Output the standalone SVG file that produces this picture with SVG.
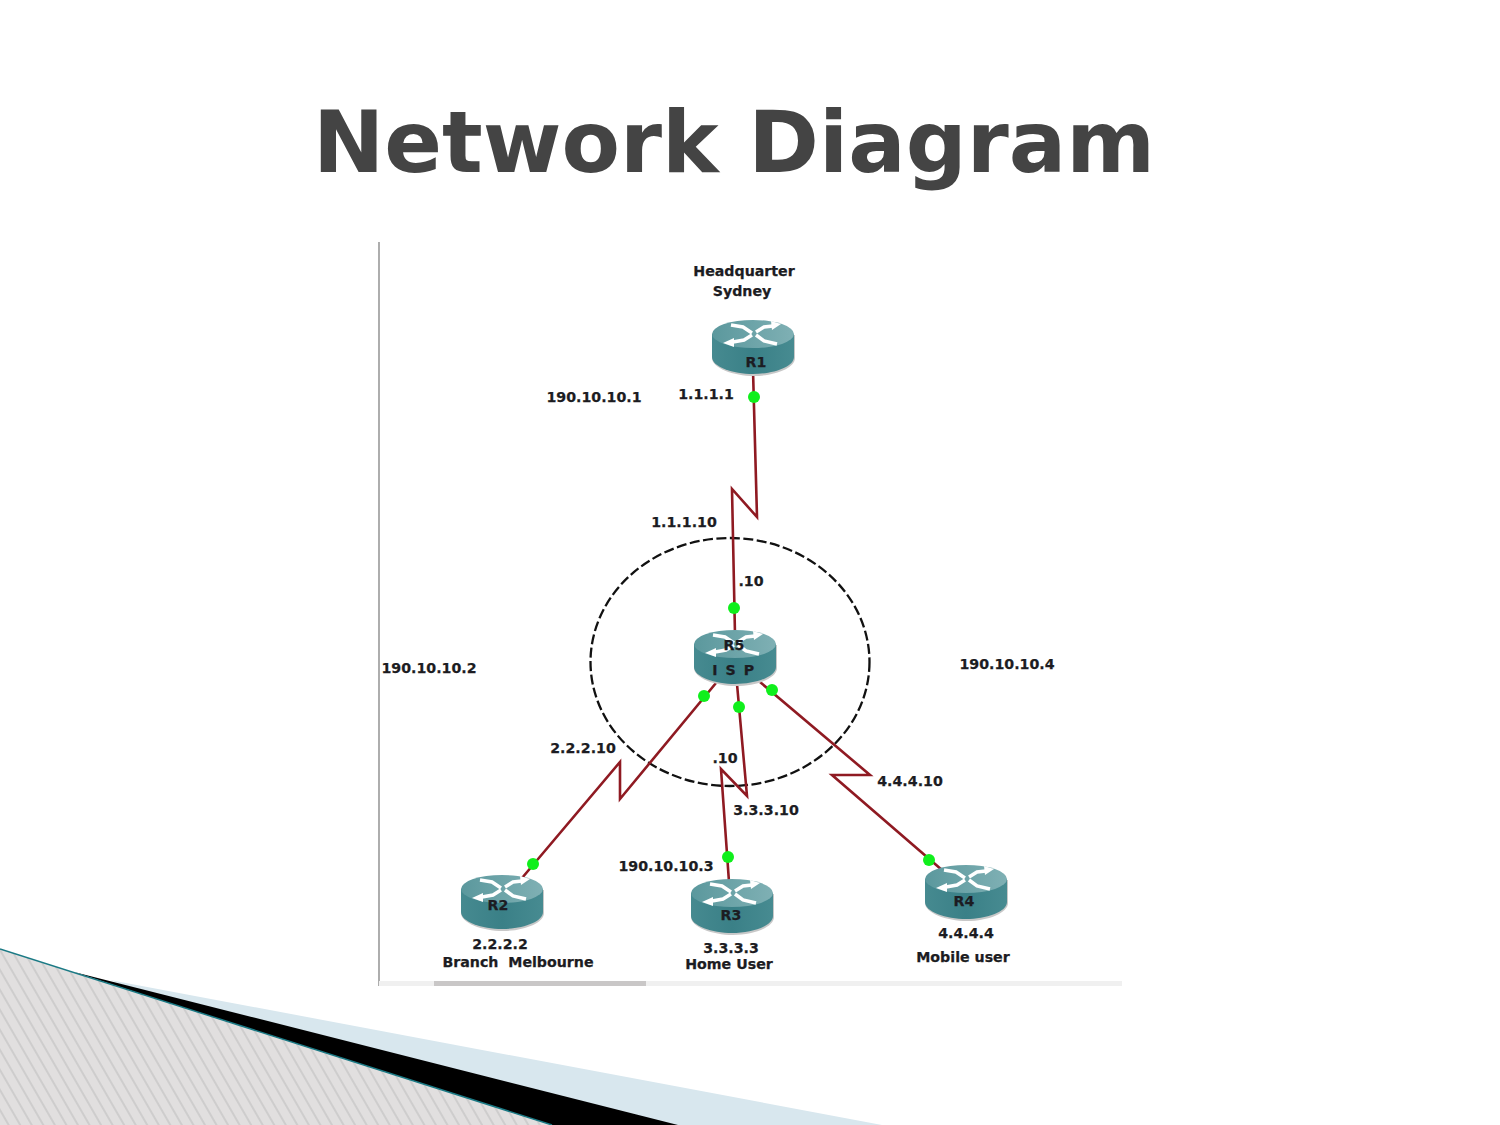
<svg xmlns="http://www.w3.org/2000/svg" width="1500" height="1125" viewBox="0 0 1500 1125">
<style>
.t{font-family:"DejaVu Sans",sans-serif;font-weight:bold;font-size:14.2px;fill:#1c1c22;stroke:#1c1c22;stroke-width:.25;text-anchor:middle;white-space:pre}
.link{fill:none;stroke:#8f1a22;stroke-width:2.6;stroke-linejoin:miter}
.dot{fill:#10ef1c}
</style>
<defs>
<pattern id="hatch" patternUnits="userSpaceOnUse" width="10" height="10" patternTransform="rotate(-30)">
<rect width="10" height="10" fill="#e1dfdf"/>
<line x1="5" y1="0" x2="5" y2="10" stroke="#bcbcbc" stroke-width="1"/>
</pattern>
<linearGradient id="side" x1="0" x2="1" y1="0" y2="0">
<stop offset="0" stop-color="#468a90"/><stop offset="0.5" stop-color="#3a8087"/><stop offset="1" stop-color="#478b91"/>
</linearGradient>
<linearGradient id="top" x1="0" x2="1" y1="0" y2="0">
<stop offset="0" stop-color="#5b989d"/><stop offset="1" stop-color="#7fb0b4"/>
</linearGradient>
<g id="router">
<path d="M-41 15 V38 C-41 48 -20 56 1 56 C22 56 42 48 42 38 V15 Z" fill="#c8c8c8"/>
<path d="M-41 14 V37 C-41 47 -20 54 0 54 C20 54 41 47 41 37 V14 Z" fill="url(#side)"/>
<ellipse cx="0" cy="14" rx="41" ry="14" fill="url(#top)"/>
<g fill="none" stroke="#fff" stroke-width="3.500">
<path d="M-22 5 L-10 7 L-1 13"/>
<path d="M-20 22 L-9 20 L-1 15"/>
<path d="M3 12 L11 7 L20 6"/>
<path d="M3 15 L11 21 L24 24"/>
</g>
<g fill="#fff">
<path d="M-30 23 L-19 18 L-19 27 Z"/>
<path d="M28 4 L18 1 L19 10 Z"/>
</g>
</g>
</defs>
<rect width="1500" height="1125" fill="#fff"/>
<path d="M110 980 L882 1125 H500 Z" fill="#d8e7ee"/>
<path d="M74 972 L678 1125 H540 Z" fill="#000"/>
<path d="M0 949 L552 1125 H0 Z" fill="url(#hatch)"/>
<path d="M0 949 L552 1125" fill="none" stroke="#1b7a85" stroke-width="1.5"/>
<text x="734" y="172" font-family="'DejaVu Sans',sans-serif" font-weight="bold" font-size="85.2" fill="#444" text-anchor="middle">Network Diagram</text>
<line x1="379" y1="242" x2="379" y2="986" stroke="#777" stroke-width="1.2"/>
<rect x="379" y="981" width="743" height="5" fill="#f0f0f0"/>
<rect x="434" y="981" width="212" height="5" fill="#c9c7c7"/>
<ellipse cx="730" cy="662" rx="139.500" ry="124" fill="none" stroke="#111" stroke-width="2.300" stroke-dasharray="10 3.500"/>
<g id="connectors">
<path class="link" d="M753 370 L757 517 L732 489 L735 635"/>
<path class="link" d="M716 683 L620 799 L620 762 L522 878"/>
<path class="link" d="M737 684 L747 796 L721 769 L729 882"/>
<path class="link" d="M760 682 L870 775 L832 775 L942 870"/>
<circle class="dot" cx="754" cy="397" r="6"/>
<circle class="dot" cx="734" cy="608" r="6"/>
<circle class="dot" cx="704" cy="696" r="6"/>
<circle class="dot" cx="739" cy="707" r="6"/>
<circle class="dot" cx="772" cy="690" r="6"/>
<circle class="dot" cx="533" cy="864" r="6"/>
<circle class="dot" cx="728" cy="857" r="6"/>
<circle class="dot" cx="929" cy="860" r="6"/>
</g>
<g id="R1"><use href="#router" x="753" y="320"/><text class="t" x="756" y="366.500">R1</text></g>
<g id="R5"><use href="#router" x="735" y="630"/><text class="t" x="734" y="649.500">R5</text><text class="t" x="734" y="674.500" letter-spacing="1.500">I S P</text></g>
<g id="R2"><use href="#router" x="502" y="875"/><text class="t" x="498" y="909.500">R2</text></g>
<g id="R3"><use href="#router" x="732" y="879"/><text class="t" x="731" y="919.500">R3</text></g>
<g id="R4"><use href="#router" x="966" y="865"/><text class="t" x="964" y="905.500">R4</text></g>
<g id="labels">
<text class="t" x="744" y="275.500">Headquarter</text>
<text class="t" x="742" y="295.500">Sydney</text>
<text class="t" x="594" y="401.500">190.10.10.1</text>
<text class="t" x="706" y="398.500">1.1.1.1</text>
<text class="t" x="684" y="526.500">1.1.1.10</text>
<text class="t" x="751" y="585.500">.10</text>
<text class="t" x="429" y="672.500">190.10.10.2</text>
<text class="t" x="1007" y="668.500">190.10.10.4</text>
<text class="t" x="583" y="752.500">2.2.2.10</text>
<text class="t" x="725" y="762.500">.10</text>
<text class="t" x="910" y="785.500">4.4.4.10</text>
<text class="t" x="766" y="814.500">3.3.3.10</text>
<text class="t" x="666" y="870.500">190.10.10.3</text>
<text class="t" x="500" y="948.500">2.2.2.2</text>
<text class="t" x="518" y="966.500">Branch  Melbourne</text>
<text class="t" x="731" y="952.500">3.3.3.3</text>
<text class="t" x="729" y="968.500">Home User</text>
<text class="t" x="966" y="937.500">4.4.4.4</text>
<text class="t" x="963" y="961.500">Mobile user</text>
</g>
</svg>
